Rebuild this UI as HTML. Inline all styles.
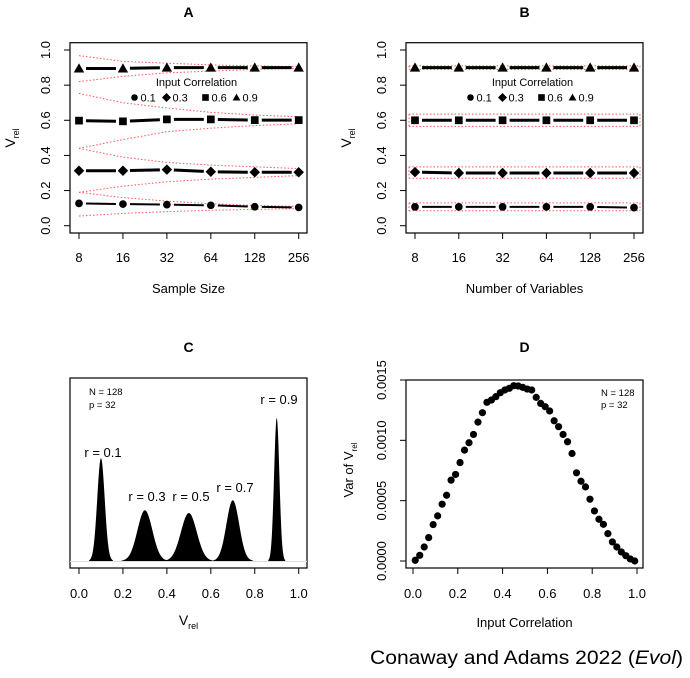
<!DOCTYPE html>
<html><head><meta charset="utf-8">
<style>
html,body{margin:0;padding:0;background:#fff;}
svg{display:block;font-family:"Liberation Sans",Arial,sans-serif;}
</style></head>
<body>
<svg id="fig" width="690" height="678" viewBox="0 0 690 678"></svg>
<script>
// ---------- Data ----------
const sizeTicks = ["8","16","32","64","128","256"];
const corrLevels = ["0.1","0.3","0.6","0.9"];
const aMean01 = [0.127,0.123,0.120,0.116,0.108,0.104];
const aMean03 = [0.313,0.313,0.319,0.307,0.304,0.304];
const aMean06 = [0.598,0.594,0.605,0.605,0.601,0.601];
const aMean09 = [0.895,0.895,0.900,0.900,0.900,0.900];
const aUp01 = [0.19,0.16,0.14,0.125,0.115,0.11];
const aLo01 = [0.055,0.07,0.08,0.088,0.093,0.097];
const aUp03 = [0.44,0.39,0.36,0.345,0.335,0.325];
const aLo03 = [0.19,0.225,0.25,0.265,0.275,0.285];
const aUp06 = [0.753,0.70,0.67,0.645,0.63,0.62];
const aLo06 = [0.44,0.49,0.535,0.555,0.57,0.58];
const aUp09 = [0.968,0.935,0.925,0.915,0.91,0.905];
const aLo09 = [0.82,0.85,0.87,0.88,0.89,0.895];

const bMean01 = [0.107,0.107,0.107,0.107,0.107,0.103];
const bMean03 = [0.305,0.300,0.300,0.300,0.300,0.300];
const bMean06 = [0.600,0.600,0.600,0.600,0.600,0.600];
const bMean09 = [0.900,0.900,0.900,0.900,0.900,0.900];
const bUp01 = [0.13,0.13,0.13,0.13,0.13,0.13];
const bLo01 = [0.085,0.085,0.085,0.085,0.085,0.085];
const bUp03 = [0.335,0.335,0.335,0.335,0.335,0.335];
const bLo03 = [0.27,0.27,0.27,0.27,0.27,0.27];
const bUp06 = [0.635,0.635,0.635,0.635,0.635,0.635];
const bLo06 = [0.565,0.565,0.565,0.565,0.565,0.565];
const bUp09 = [0.91,0.91,0.91,0.91,0.91,0.91];
const bLo09 = [0.89,0.89,0.89,0.89,0.89,0.89];

const cCenters = [0.1,0.3,0.5,0.7,0.9];
const cSds = [0.017,0.034,0.036,0.029,0.012];
const cPeaks = [22.5,11.1,10.5,13.3,31.3];
const cLabels = ["r = 0.1","r = 0.3","r = 0.5","r = 0.7","r = 0.9"];

const dX = [];
for (let i=0;i<50;i++) dX.push(+(0.01+0.02*i).toFixed(2));
const dVar = [0.06,0.47,1.16,1.94,3.02,3.74,4.71,5.45,6.70,7.17,8.16,9.19,9.80,10.49,11.51,12.29,13.15,13.34,13.62,13.95,14.17,14.31,14.53,14.50,14.39,14.25,14.17,13.56,13.06,12.79,12.43,11.62,11.13,10.49,9.88,8.91,7.31,6.61,6.14,5.12,4.15,3.46,3.04,2.27,1.58,1.16,0.75,0.44,0.17,0.00].map(v=>v*1e-4);
const dTicks = ["0.0000","0.0005","0.0010","0.0015"];
const unitTicks = ["0.0","0.2","0.4","0.6","0.8","1.0"];

// ---------- Helpers ----------
const NS="http://www.w3.org/2000/svg";
const svg=document.getElementById('fig');
function mk(tag,attrs,parent){const e=document.createElementNS(NS,tag);for(const k in attrs)e.setAttribute(k,attrs[k]);(parent||svg).appendChild(e);return e;}
function txt(s,x,y,size,parent,extra){const t=mk('text',Object.assign({x:x,y:y,'font-size':size,'text-anchor':'middle',fill:'#000'},extra||{}),parent);t.textContent=s;return t;}

function box(g,x0,y0,x1,y1){
  const r=mk('rect',{x:x0,y:y0,width:x1-x0,height:y1-y0,fill:'none',stroke:'#000','stroke-width':1.2},g);
  
  
}
function xAxis(g,positions,labels,yAxisLine,labY){
  const ax=mk('g',{},g);
  
  
  mk('line',{x1:positions[0],x2:positions[positions.length-1],y1:yAxisLine,y2:yAxisLine,stroke:'#000','stroke-width':1},ax);
  positions.forEach((p,i)=>{
    mk('line',{x1:p,x2:p,y1:yAxisLine,y2:yAxisLine+6,stroke:'#000','stroke-width':1},ax);
    const t=txt(labels[i],p,labY,13,ax);
    
    
  });
}
function yAxis(g,positions,labels,xAxisLine,labX){
  const ax=mk('g',{},g);
  
  
  mk('line',{x1:xAxisLine,x2:xAxisLine,y1:positions[0],y2:positions[positions.length-1],stroke:'#000','stroke-width':1},ax);
  positions.forEach((p,i)=>{
    mk('line',{x1:xAxisLine,x2:xAxisLine-6,y1:p,y2:p,stroke:'#000','stroke-width':1},ax);
    const t=txt(labels[i],0,0,13,ax,{transform:`translate(${labX},${p}) rotate(-90)`});
    
    
  });
}
function marker(g,type,x,y,s){
  let e;
  if(type==='circle') e=mk('circle',{cx:x,cy:y,r:s*0.55,fill:'#000'},g);
  else if(type==='diamond') e=mk('polygon',{points:`${x},${y-s*0.75} ${x+s*0.75},${y} ${x},${y+s*0.75} ${x-s*0.75},${y}`,fill:'#000'},g);
  else if(type==='square') e=mk('rect',{x:x-s*0.55,y:y-s*0.55,width:s*1.1,height:s*1.1,fill:'#000'},g);
  else e=mk('polygon',{points:`${x},${y-s*0.65} ${x+s*0.65},${y+s*0.5} ${x-s*0.65},${y+s*0.5}`,fill:'#000'},g);
  return e;
}
function vrelTitle(g,x,y){
  const t=mk('text',{transform:`translate(${x},${y}) rotate(-90)`,'font-size':14,'text-anchor':'middle',fill:'#000'},g);
  t.innerHTML='V<tspan font-size="9" dy="4">rel</tspan>';
  return t;
}

// ---------- Panels A & B ----------
function linePanel(name,title,xTitle,x0,x1,tx0,tx1,means,ups,los,dotted){
  const g=mk('g',{});
  
  
  const yTop=42.7,yBot=233;
  const sy=v=>225.7-v*175.7;
  const n=sizeTicks.length;
  const sx=i=>tx0+(tx1-tx0)*i/(n-1);
  const t=txt(title,(x0+x1)/2,17,14,g,{'font-weight':'bold'});
  
  
  box(g,x0,yTop,x1,yBot);
  xAxis(g,sizeTicks.map((_,i)=>sx(i)),sizeTicks,yBot,262);
  yAxis(g,unitTicks.map(v=>sy(+v)),unitTicks,x0,x0-20);
  const yt=vrelTitle(g,x0-55,138);
  
  
  const xt=txt(xTitle,(x0+x1)/2,293,13,g);
  
  
  const types=['circle','diamond','square','triangle'];
  const sizes=[7,7,7,8];
  means.forEach((m,si)=>{
    const sg=mk('g',{},g);
    
    
    [ups[si],los[si]].forEach(arr=>{
      const pts=arr.map((v,i)=>`${dotted?(i===0?sx(i)-6:sx(i)):sx(i)},${sy(v)}`);
      if(dotted){pts[pts.length-1]=`${sx(n-1)+6},${sy(arr[n-1])}`;}
      const pl=mk('polyline',{points:pts.join(' '),fill:'none',stroke:'#f55','stroke-width':1,'stroke-dasharray':'1.5,2'},sg);
      
      
    });
    if(dotted){
      [0,n-1].forEach(i=>{
        mk('line',{x1:sx(i)+(i===0?-6:6),x2:sx(i)+(i===0?-6:6),y1:sy(ups[si][i]),y2:sy(los[si][i]),stroke:'#f55','stroke-width':1,'stroke-dasharray':'1.5,2'},sg);
      });
    }
    const lw=si===0?2:3;
    for(let i=0;i<n-1;i++){
      const xa=sx(i),xb=sx(i+1),ya=sy(m[i]),yb=sy(m[i+1]);
      const gap=7,f=gap/(xb-xa);
      const seg=mk('line',{x1:xa+gap,y1:ya+(yb-ya)*f,x2:xb-gap,y2:yb-(yb-ya)*f,stroke:'#000','stroke-width':lw},sg);
      
      
    }
    m.forEach((v,i)=>{
      const mm=marker(sg,types[si],sx(i),sy(v),sizes[si]);
      
      
    });
  });
  const lg=mk('g',{},g);
  
  
  const lc=(x0+x1)/2+8;
  txt('Input Correlation',lc,86,11,lg);
  const lx=[lc-62,lc-30,lc+9,lc+40];
  corrLevels.forEach((c,i)=>{
    const e=mk('g',{},lg);
    
    
    marker(e,types[i],lx[i],97.5,6);
    txt(c,lx[i]+6,101.5,11,e,{'text-anchor':'start'});
  });
}
linePanel('panel-a','A','Sample Size',70,307,79,298.7,[aMean01,aMean03,aMean06,aMean09],[aUp01,aUp03,aUp06,aUp09],[aLo01,aLo03,aLo06,aLo09],false);
linePanel('panel-b','B','Number of Variables',406,643,415,634,[bMean01,bMean03,bMean06,bMean09],[bUp01,bUp03,bUp06,bUp09],[bLo01,bLo03,bLo06,bLo09],true);

// ---------- Panel C ----------
(function(){
  const g=mk('g',{});
  
  
  const x0=70,x1=307,yTop=378,yBot=568,base=561;
  const sx=v=>79+v*219.7;
  const sy=d=>base-d*4.57;
  const t=txt('C',188.5,352,14,g,{'font-weight':'bold'});
  
  
  box(g,x0,yTop,x1,yBot);
  mk('line',{x1:x0,x2:x1,y1:base+0.5,y2:base+0.5,stroke:'#ddd','stroke-width':1},g);
  xAxis(g,unitTicks.map(v=>sx(+v)),unitTicks,yBot,598);
  const xt=mk('text',{x:188.5,y:625,'font-size':14,'text-anchor':'middle',fill:'#000'},g);
  xt.innerHTML='V<tspan font-size="9" dy="4">rel</tspan>';
  
  
  cCenters.forEach((c,i)=>{
    const lo=c-3.2*cSds[i],hi=c+3.2*cSds[i];
    let d=`M${sx(lo)},${base}`;
    for(let k=0;k<=60;k++){const v=lo+(hi-lo)*k/60;const z=(v-c)/cSds[i];d+=` L${sx(v).toFixed(2)},${sy(cPeaks[i]*Math.exp(-z*z/2)).toFixed(2)}`;}
    d+=` L${sx(hi)},${base} Z`;
    const p=mk('path',{d:d,fill:'#000'},g);
    
    
  });
  const lp=[[103,457],[147,501],[191,501],[235,492],[279,404]];
  cLabels.forEach((s,i)=>{
    const l=txt(s,lp[i][0],lp[i][1],13,g);
    
    
  });
  const a=txt('N = 128',89,395,9.5,g,{'text-anchor':'start'});
  
  
  const b=txt('p = 32',89,408,9.5,g,{'text-anchor':'start'});
  
  
})();

// ---------- Panel D ----------
(function(){
  const g=mk('g',{});
  
  
  const x0=406,x1=643,yTop=380,yBot=568;
  const sx=v=>413+v*224;
  const sy=v=>561-v/0.0015*181;
  const t=txt('D',524.5,352,14,g,{'font-weight':'bold'});
  
  
  box(g,x0,yTop,x1,yBot);
  xAxis(g,unitTicks.map(v=>sx(+v)),unitTicks,yBot,598);
  yAxis(g,dTicks.map(v=>sy(+v)),dTicks,x0,x0-20);
  const xt=txt('Input Correlation',524.5,627,13,g);
  
  
  const yt=mk('text',{transform:'translate(353,470) rotate(-90)','font-size':13,'text-anchor':'middle',fill:'#000'},g);
  yt.innerHTML='Var of V<tspan font-size="8" dy="4">rel</tspan>';
  
  
  dX.forEach((x,i)=>{
    const c=mk('circle',{cx:sx(x),cy:sy(dVar[i]),r:3.6,fill:'#000'},g);
    
    
  });
  const a=txt('N = 128',601,396,9.5,g,{'text-anchor':'start'});
  
  
  const b=txt('p = 32',601,408,9.5,g,{'text-anchor':'start'});
  
  
})();

// ---------- Footer ----------
const ft=mk('text',{x:370,y:664,'font-size':19,fill:'#000',textLength:313,lengthAdjust:'spacingAndGlyphs'});
ft.innerHTML='Conaway and Adams 2022 (<tspan font-style="italic">Evol</tspan>)';


</script>
</body></html>
